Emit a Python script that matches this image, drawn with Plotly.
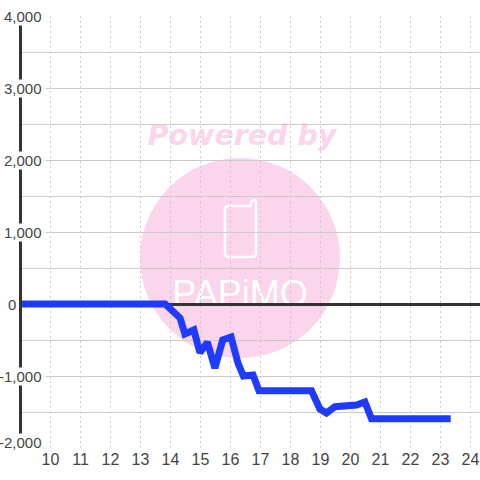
import plotly.graph_objects as go

x_values = [8.883, 13.82, 14.32, 14.48, 14.78, 14.98, 15.23, 15.48, 15.74, 16.02, 16.25, 16.43, 16.75, 16.95, 18.7, 18.98, 19.2, 19.48, 20.2, 20.48, 20.7, 23.34]
y_values = [0, 0, -195, -417, -361, -676, -530, -890, -500, -458, -820, -1000, -986, -1204, -1204, -1458, -1514, -1426, -1403, -1361, -1593, -1593]
x_ticks = list(range(10, 25))
y_ticks = [4000, 3000, 2000, 1000, 0, -1000, -2000]

W, H = 480, 480
L, R, T, B = 22, 0, 16, 32
def px(v): return (v - L) / (W - L - R)
def py(v): return 1 - (v - T) / (H - T - B)

FONT = "Liberation Sans"
PINK = "#fbd5ec"

fig = go.Figure(go.Scatter(x=x_values, y=y_values, mode="lines", cliponaxis=False,
                           line=dict(color="#1f3bff", width=7), hoverinfo="skip"))

shapes = [
    dict(type="circle", xref="paper", yref="paper", layer="below",
         x0=px(140), x1=px(340), y0=py(358), y1=py(158), fillcolor=PINK, line=dict(width=0)),
    dict(type="rect", xref="paper", yref="paper", layer="below",
         x0=px(140), x1=px(344), y0=py(149), y1=py(117), fillcolor="rgba(0,0,0,0)", line=dict(width=0),
         label=dict(text="<b><i>Powered by</i></b>", font=dict(family="DejaVu Sans", size=28.5, color=PINK),
                    textposition="middle center")),
    dict(type="path", xref="paper", yref="paper", layer="below",
         path=f"M {px(228)} {py(206)} L {px(251)} {py(206)} L {px(251)} {py(203)} Q {px(252)} {py(200)} {px(254)} {py(200)} "
              f"Q {px(256)} {py(200)} {px(256)} {py(203)} L {px(256)} {py(253)} Q {px(256)} {py(257)} {px(252)} {py(257)} "
              f"L {px(229)} {py(257)} Q {px(225)} {py(257)} {px(225)} {py(253)} L {px(225)} {py(209)} Q {px(225)} {py(206)} {px(228)} {py(206)} Z",
         fillcolor="rgba(0,0,0,0)", line=dict(color="white", width=2.5)),
    dict(type="rect", xref="paper", yref="paper", layer="below",
         x0=px(165), x1=px(315), y0=py(309), y1=py(271), fillcolor="rgba(0,0,0,0)", line=dict(width=0),
         label=dict(text="PAPiMO", font=dict(family=FONT, size=36, color="white"),
                    textposition="middle center")),
]

annotations = []
for t in y_ticks:
    is_zero = t == 0
    annotations.append(dict(
        xref="paper", yref="y", x=px(17) if is_zero else px(46), y=t, xanchor="right", yanchor="middle",
        text="0" if is_zero else f"{t:,}\u2009", showarrow=False,
        bgcolor="rgba(0,0,0,0)" if is_zero else "white", borderpad=0,
        yshift=6 if t == y_ticks[-1] else 0,
        font=dict(family=FONT, size=15, color="#444444")))

fig.update_layout(
    width=W, height=H, autosize=False,
    margin=dict(l=L, r=R, t=T, b=B),
    paper_bgcolor="white", plot_bgcolor="rgba(0,0,0,0)",
    showlegend=False, shapes=shapes, annotations=annotations,
    xaxis=dict(range=[10 - 28.5 / 30, 10 + 429.5 / 30], tickvals=x_ticks,
               tickfont=dict(family=FONT, size=16, color="#444444"), ticks="", ticklen=0,
               showgrid=True, gridcolor="#cccccc", gridwidth=1, griddash="2px,3px",
               zeroline=False, showline=False, fixedrange=True),
    yaxis=dict(range=[-2000, 4000], tickvals=y_ticks, showticklabels=False, ticks="",
               showgrid=True, gridcolor="#cccccc", gridwidth=1,
               minor=dict(dtick=500, showgrid=True, gridcolor="#cccccc", gridwidth=1),
               zeroline=True, zerolinecolor="#333333", zerolinewidth=3,
               showline=True, linecolor="#333333", linewidth=3, fixedrange=True),
)
fig.write_html("out.html", config={"displayModeBar": False},
               post_script="document.body.style.margin='0';document.documentElement.style.overflow='hidden';")
